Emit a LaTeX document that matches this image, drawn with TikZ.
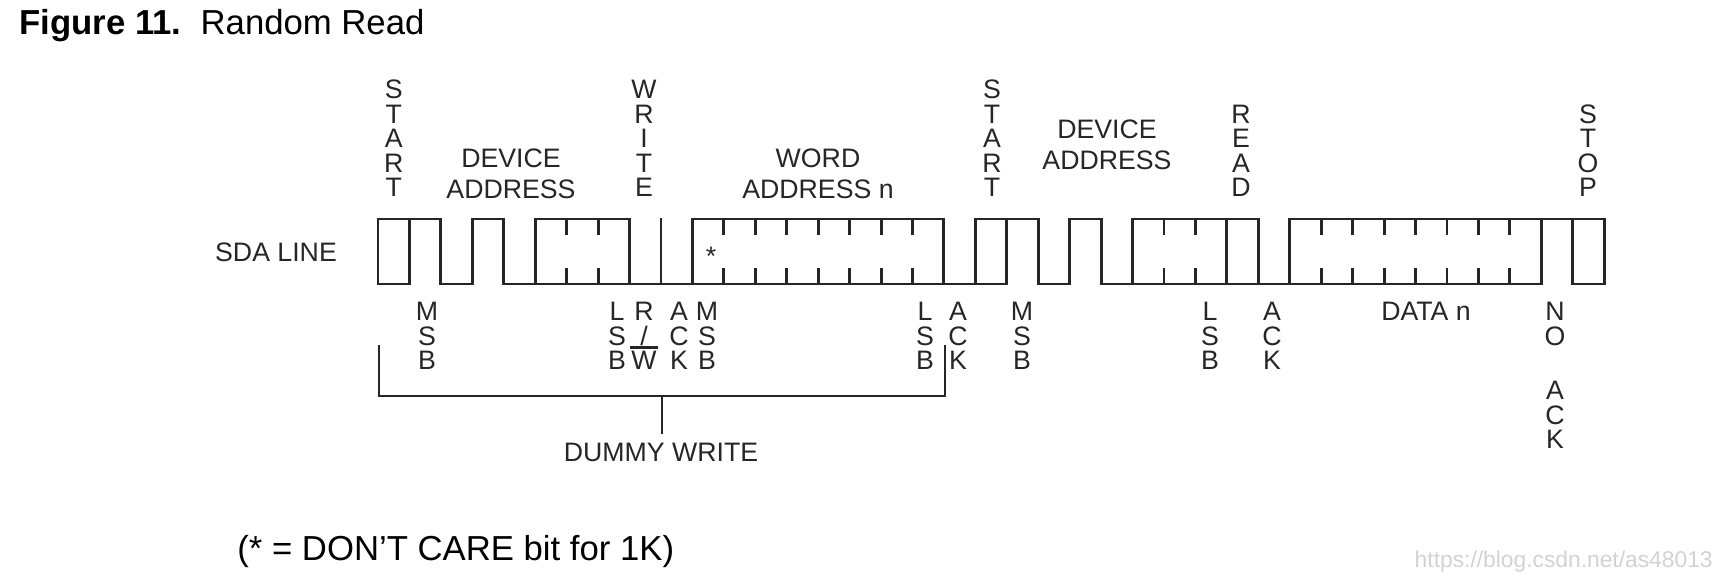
\documentclass[tikz,border=0pt]{standalone}
\usepackage{fontspec}
\setmainfont{Liberation Sans}
\definecolor{ink}{gray}{0.15}
\newcommand\bnd[1]{378+31.44*#1}
\begin{document}
\begin{tikzpicture}[x=0.5pt,y=-0.5pt,
  wave/.style={line width=1.45pt,line cap=rect,draw=ink},
  tickline/.style={line width=1.45pt,draw=ink},
  brk/.style={line width=1.3pt,line cap=rect,draw=ink},
  lbl/.style={inner sep=0pt,align=center,text=ink,font=\fontsize{13.35}{15.5}\selectfont},
  stk/.style={inner sep=0pt,align=center,text=ink,font=\fontsize{13.35}{12.25}\selectfont},
  big/.style={inner sep=0pt,text=black,font=\fontsize{17.35}{20}\selectfont},
]
\useasboundingbox (0,0) rectangle (1716,577);
\def\wt{219}\def\wb{284}
% waveform
\foreach \a/\b in {0/2,3/4,5/8,10/18,19/21,22/23,24/28,29/39}
  \draw[wave] ({\bnd{\a}},\wt) -- ({\bnd{\b}},\wt);
\foreach \a/\b in {0/1,2/3,4/19,19/20,21/22,23/37,38/39}
  \draw[wave] ({\bnd{\a}},\wb) -- ({\bnd{\b}},\wb);
\foreach \a in {0,1,2,3,4,5,8,9,10,18,19,20,21,22,23,24,27,28,29,37,38,39}
  \draw[wave] ({\bnd{\a}},\wt) -- ({\bnd{\a}},\wb);
\foreach \a in {6,7,11,12,13,14,15,16,17,25,26,30,31,32,33,34,35,36}{
  \draw[tickline] ({\bnd{\a}},\wt) -- ++(0,16);
  \draw[tickline] ({\bnd{\a}},\wb) -- ++(0,-16);
}
% labels above
\node[stk,anchor=south] (start1) at (393.7,197) {S\\T\\A\\R\\T};
\node[lbl,anchor=south] (dev1) at (511,199) {DEVICE\\ADDRESS};
\node[stk,anchor=south] (write) at (644,197) {W\\R\\I\\T\\E};
\node[lbl,anchor=south] (word) at (818,199) {WORD\\ADDRESS n};
\node[stk,anchor=south] (start2) at (992,197) {S\\T\\A\\R\\T};
\node[lbl,anchor=south] (dev2) at (1107,170) {DEVICE\\ADDRESS};
\node[stk,anchor=south] (read) at (1241,197) {R\\E\\A\\D};
\node[stk,anchor=south] (stop) at (1588,197) {S\\T\\O\\P};
% labels below
\node[stk,anchor=north] (msb1) at (427,302) {M\\S\\B};
\node[stk,anchor=north] (lsb1) at (617,302) {L\\S\\B};
\node[stk,anchor=north] (rw) at (644,302) {R\\/\\\smash{\vbox{\hrule height 1.4pt\kern 1.3pt\hbox{\kern0.6pt W\kern0.6pt}}}};
\node[stk,anchor=north] (ack1) at (679,302) {A\\C\\K};
\node[stk,anchor=north] (msb2) at (707,302) {M\\S\\B};
\node[stk,anchor=north] (lsb2) at (925,302) {L\\S\\B};
\node[stk,anchor=north] (ack2) at (958,302) {A\\C\\K};
\node[stk,anchor=north] (msb3) at (1022,302) {M\\S\\B};
\node[stk,anchor=north] (lsb3) at (1210,302) {L\\S\\B};
\node[stk,anchor=north] (ack3) at (1272,302) {A\\C\\K};
\node[lbl,anchor=north] (datan) at (1426,302) {DATA n};
\node[stk,anchor=north] (noack) at (1555,302) {N\\O\\[15pt]A\\C\\K};
% dummy write bracket
\coordinate (bl) at (379,346);
\coordinate (blc) at (379,396);
\coordinate (brc) at (945,396);
\coordinate (br) at (945,346);
\coordinate (bm) at (662,396);
\draw[brk] (bl) -- (blc) -- (brc) -- (br);
\node[lbl,anchor=north,outer ysep=5pt] (dummy) at (661,433) {DUMMY WRITE};
\draw[brk] (bm) -- (bm |- dummy.north);
% misc
\node[lbl,anchor=base] (sda) at (276,261) {SDA LINE};
\node[inner sep=0pt,anchor=base,text=ink,font=\fontsize{13.35}{15}\selectfont] (star) at (711,265) {*};
\node[big,anchor=base west] (title) at (19,35) {\textbf{Figure 11.}\ \ Random Read};
\node[big,anchor=base west] (note) at (237,560) {(* = DON’T CARE bit for 1K)};
\node[inner sep=0pt,anchor=base east,text=gray!35,font=\fontsize{11.4}{13}\selectfont] (wm) at (1713,567) {https://blog.csdn.net/as48013};
\end{tikzpicture}
\end{document}
